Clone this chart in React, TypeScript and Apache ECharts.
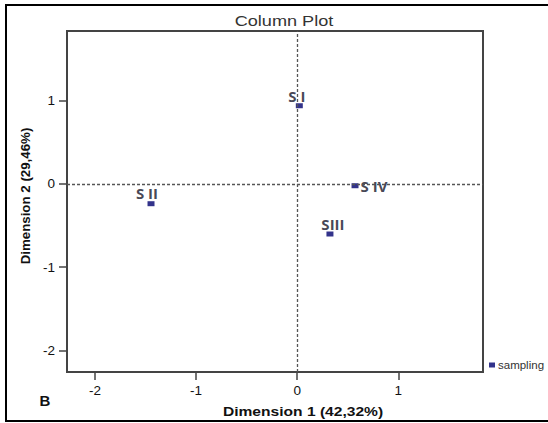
import React, { useEffect, useRef } from "react";
import * as echarts from "echarts";

// ---- data ----
const sampleNames = ["S I", "S II", "SIII", "S IV"];
const dimension1 = [0.021, -1.446, 0.324, 0.572];
const dimension2 = [0.938, -0.239, -0.603, -0.023];
const tickValuesX = [-2, -1, 0, 1];
const tickValuesY = [-2, -1, 0, 1];
const seriesName = "sampling";
const chartTitle = "Column Plot";
const xTitle = "Dimension 1 (42,32%)";
const yTitle = "Dimension 2 (29,46%)";
const panelLetter = "B";

// label placement (style, kept apart from data)
const labelOffsets: [number, number][] = [
  [-2.5, -9.7],
  [-4, -10.4],
  [3, -10],
  [19, 0.3],
];

const AXIS_COLOR = "#444444";
const MARK_COLOR = "#00006e";

export default function App() {
  const ref = useRef<HTMLDivElement>(null);

  useEffect(() => {
    if (!ref.current) return;
    const chart = echarts.init(ref.current, null, { renderer: "svg" });

    const data = sampleNames.map((name, i) => ({
      name,
      value: [dimension1[i], dimension2[i]],
      label: { offset: labelOffsets[i] },
    }));

    chart.setOption({
      animation: false,
      backgroundColor: "#ffffff",
      grid: {
        left: 67,
        top: 31,
        right: 65,
        bottom: 51,
        show: true,
        borderColor: AXIS_COLOR,
        borderWidth: 2,
        backgroundColor: "#ffffff",
      },
      xAxis: {
        type: "value",
        min: -2.277,
        max: 1.838,
        splitLine: { show: false },
        axisLine: { show: true, onZero: false, lineStyle: { color: AXIS_COLOR, width: 2 } },
        axisTick: {
          show: true,
          length: 8,
          customValues: tickValuesX,
          lineStyle: { color: AXIS_COLOR, width: 1.5 },
        },
        axisLabel: {
          customValues: tickValuesX,
          margin: 11,
          color: "#111",
          fontSize: 13.5,
          fontFamily: "Liberation Sans, Arial, sans-serif",
        },
      },
      yAxis: {
        type: "value",
        min: -2.261,
        max: 1.836,
        splitLine: { show: false },
        axisLine: { show: true, onZero: false, lineStyle: { color: AXIS_COLOR, width: 2 } },
        axisTick: {
          show: true,
          length: 8,
          customValues: tickValuesY,
          lineStyle: { color: AXIS_COLOR, width: 1.5 },
        },
        axisLabel: {
          customValues: tickValuesY,
          margin: 12,
          color: "#111",
          fontSize: 13.5,
          fontFamily: "Liberation Sans, Arial, sans-serif",
        },
      },
      legend: {
        show: true,
        left: 489,
        top: 359,
        icon: "rect",
        itemWidth: 6,
        itemHeight: 5,
        padding: 0,
        backgroundColor: "#ffffff",
        textStyle: {
          fontSize: 11.5,
          color: "#333",
          fontFamily: "Liberation Sans, Arial, sans-serif",
          padding: [0, 0, 0, -2],
        },
        data: [seriesName],
      },
      graphic: [
        {
          type: "rect",
          shape: { x: 6, y: 5, width: 600, height: 416 },
          style: { fill: "none", stroke: "#000", lineWidth: 2 },
          silent: true,
        },
        {
          type: "text",
          x: 284,
          y: 21,
          scaleX: 1.25,
          style: {
            text: chartTitle,
            fill: "#333",
            fontSize: 14.5,
            fontFamily: "Liberation Sans, Arial, sans-serif",
            align: "center",
            verticalAlign: "middle",
          },
        },
        {
          type: "text",
          x: 303,
          y: 411,
          scaleX: 1.2,
          style: {
            text: xTitle,
            fill: "#111",
            fontSize: 13,
            fontWeight: "bold",
            fontFamily: "Liberation Sans, Arial, sans-serif",
            align: "center",
            verticalAlign: "middle",
          },
        },
        {
          type: "text",
          x: 25,
          y: 196,
          rotation: Math.PI / 2,
          style: {
            text: yTitle,
            fill: "#111",
            fontSize: 13.3,
            fontWeight: "bold",
            fontFamily: "Liberation Sans, Arial, sans-serif",
            align: "center",
            verticalAlign: "middle",
          },
        },
        {
          type: "text",
          x: 45,
          y: 400,
          style: {
            text: panelLetter,
            fill: "#111",
            fontSize: 15,
            fontWeight: "bold",
            fontFamily: "Liberation Sans, Arial, sans-serif",
            align: "center",
            verticalAlign: "middle",
          },
        },
      ],
      series: [
        {
          name: seriesName,
          type: "scatter",
          symbol: "rect",
          symbolSize: [7, 5],
          itemStyle: { color: MARK_COLOR },
          data,
          label: {
            show: true,
            position: "inside",
            formatter: "{b}",
            color: "#15152a",
            fontSize: 15,
            fontWeight: "bold",
            fontFamily: "Open Sans, sans-serif",
          },
          markLine: {
            silent: true,
            symbol: ["none", "none"],
            label: { show: false },
            lineStyle: { color: "#555", type: [3, 2], width: 1.3 },
            data: [{ xAxis: 0 }, { yAxis: 0 }],
          },
          z: 3,
        },
      ],
    });

    return () => chart.dispose();
  }, []);

  return (
    <div
      ref={ref}
      style={{ position: "fixed", left: 0, top: 0, width: 548, height: 423 }}
    />
  );
}
